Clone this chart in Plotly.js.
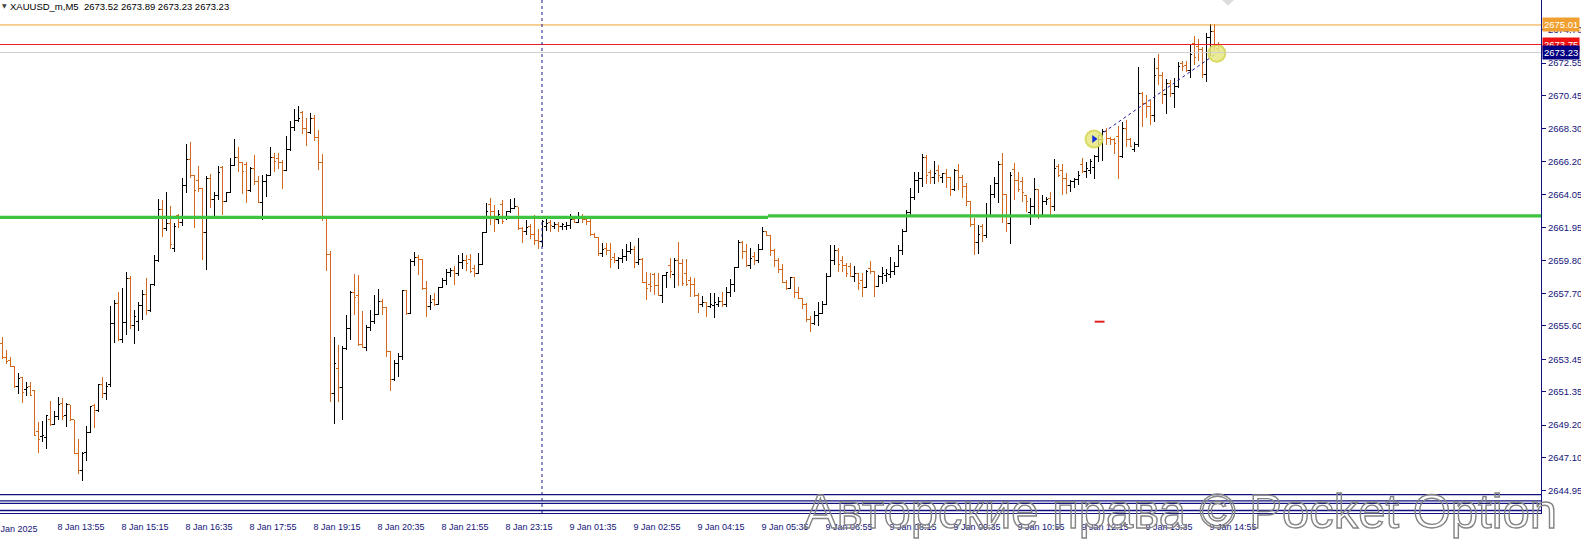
<!DOCTYPE html>
<html>
<head>
<meta charset="utf-8">
<script src="https://cdn.plot.ly/plotly-3.0.1.min.js"></script>
<style>
html,body{margin:0;padding:0;background:#ffffff;overflow:hidden}
#chart{width:1581px;height:541px}
</style>
</head>
<body>
<div id="chart"></div>
<script>
// ---------- data ----------
const symbolName = 'XAUUSD_m,M5';

const open = [
2654.47,2653.57,2653.34,2652.97,2651.68,2652.28,2651.51,2651.68,2651.42,2648.80,
2648.45,2648.41,2649.53,2649.27,2649.74,2650.60,2649.83,2650.50,2649.53,2647.34,
2646.30,2647.44,2648.71,2650.45,2650.11,2651.83,2651.25,2651.85,2655.76,2657.05,
2654.69,2655.83,2658.67,2655.60,2655.90,2656.90,2657.63,2656.60,2658.30,2659.80,
2663.12,2661.89,2662.21,2660.60,2662.70,2662.30,2664.68,2666.30,2665.27,2665.00,
2664.47,2661.61,2665.11,2663.78,2664.00,2665.80,2663.65,2664.20,2665.97,2666.45,
2666.15,2666.00,2664.36,2665.72,2664.94,2663.57,2664.90,2665.33,2666.47,2666.40,
2666.13,2665.65,2667.00,2668.41,2668.84,2669.38,2668.30,2668.10,2668.95,2667.76,
2666.11,2662.56,2660.20,2651.27,2652.88,2651.64,2654.17,2655.40,2657.77,2657.57,
2654.43,2654.20,2655.47,2655.89,2656.32,2657.18,2656.80,2653.92,2652.13,2653.16,
2653.64,2657.85,2656.43,2659.76,2659.98,2659.87,2658.04,2656.82,2657.30,2657.00,
2658.08,2658.50,2659.03,2659.16,2658.98,2659.67,2659.80,2659.90,2659.30,2659.00,
2659.59,2661.61,2663.40,2663.00,2662.47,2663.40,2662.50,2662.95,2663.18,2663.29,
2661.89,2661.67,2662.00,2661.50,2661.13,2661.03,2662.00,2662.30,2662.00,2662.17,
2662.00,2662.00,2662.10,2662.47,2662.27,2662.64,2662.47,2662.32,2661.51,2661.30,
2660.28,2660.60,2660.45,2660.00,2659.80,2659.96,2660.07,2660.43,2660.50,2659.70,
2659.90,2658.40,2658.30,2658.90,2658.20,2657.59,2658.85,2659.50,2658.90,2659.80,
2659.64,2659.00,2658.50,2658.25,2657.59,2656.95,2657.10,2656.84,2656.90,2657.00,
2657.20,2656.95,2657.75,2658.30,2659.38,2661.00,2660.38,2659.48,2660.10,2659.80,
2660.53,2661.67,2661.45,2660.49,2659.84,2659.26,2658.40,2658.00,2658.73,2657.74,
2657.35,2656.99,2656.02,2655.76,2656.30,2656.40,2657.01,2658.81,2659.84,2660.49,
2659.80,2659.52,2659.40,2658.81,2658.95,2658.50,2658.06,2659.30,2659.09,2658.17,
2658.77,2658.85,2658.90,2659.10,2659.46,2660.45,2661.68,2662.91,2663.89,2664.95,
2665.12,2666.45,2665.50,2665.20,2665.60,2665.20,2665.40,2665.18,2664.37,2665.60,
2665.20,2664.58,2663.61,2662.15,2661.00,2662.00,2661.40,2662.75,2664.09,2664.80,
2666.00,2664.09,2662.20,2665.70,2665.00,2664.90,2664.00,2662.90,2663.30,2664.40,
2662.75,2663.60,2663.80,2663.30,2665.90,2665.60,2665.10,2664.68,2664.94,2665.07,
2666.00,2665.54,2665.60,2665.80,2666.50,2667.65,2668.12,2667.70,2667.60,2667.80,
2666.51,2668.34,2667.59,2667.00,2667.27,2670.60,2669.95,2669.74,2669.20,2672.20,
2671.75,2670.53,2671.24,2670.60,2671.03,2672.50,2672.40,2672.10,2673.80,2673.60,
2673.40,2671.80,2674.20,2674.60,2673.52];

const high = [
2654.86,2654.04,2653.61,2652.99,2652.54,2652.32,2651.96,2651.96,2651.46,2649.38,
2649.47,2649.85,2650.76,2650.13,2650.99,2650.93,2650.65,2650.52,2649.55,2648.30,
2647.44,2649.14,2650.45,2650.56,2651.85,2652.32,2652.00,2656.88,2657.27,2657.81,
2658.02,2659.05,2658.82,2656.60,2657.16,2657.91,2658.66,2658.28,2660.17,2663.78,
2663.72,2664.21,2663.33,2662.26,2662.81,2665.11,2667.33,2667.48,2665.33,2665.93,
2664.50,2665.27,2665.39,2664.21,2665.93,2665.93,2664.25,2666.40,2667.65,2667.16,
2666.19,2666.19,2665.87,2666.62,2665.27,2665.33,2665.39,2667.11,2666.77,2666.77,
2666.30,2667.87,2668.84,2669.59,2669.81,2669.44,2669.01,2669.33,2669.22,2668.26,
2666.69,2662.60,2660.41,2654.86,2654.39,2654.28,2656.32,2657.87,2658.95,2658.90,
2656.54,2655.68,2656.65,2657.61,2657.98,2657.34,2656.85,2653.95,2653.38,2653.85,
2657.89,2657.89,2659.92,2660.37,2660.15,2659.94,2658.47,2657.61,2657.72,2658.12,
2658.71,2659.26,2659.35,2659.46,2660.17,2660.27,2660.17,2660.23,2659.52,2660.32,
2661.67,2663.50,2663.87,2663.39,2663.07,2663.71,2663.01,2663.76,2663.82,2663.30,
2661.95,2662.42,2662.17,2662.75,2661.82,2662.42,2662.47,2662.42,2662.27,2662.27,
2662.25,2662.27,2662.81,2662.64,2662.96,2662.81,2662.68,2662.47,2661.60,2661.31,
2660.93,2660.93,2660.93,2660.28,2660.02,2660.56,2660.86,2661.03,2660.78,2661.29,
2659.96,2659.10,2659.04,2659.00,2659.00,2658.88,2659.10,2659.96,2659.96,2660.99,
2659.92,2659.92,2658.78,2658.67,2657.70,2657.55,2657.15,2657.70,2657.70,2657.49,
2657.81,2658.13,2658.61,2659.42,2661.14,2661.10,2660.88,2660.60,2660.38,2660.88,
2661.95,2661.74,2661.46,2660.55,2659.95,2659.57,2658.55,2658.77,2658.75,2658.08,
2657.40,2657.05,2656.25,2656.58,2657.16,2657.22,2658.98,2660.81,2660.81,2660.60,
2660.10,2659.63,2659.63,2659.46,2658.98,2658.98,2659.20,2659.78,2659.12,2658.88,
2659.41,2659.24,2660.06,2659.74,2660.82,2661.85,2663.08,2664.52,2665.55,2665.55,
2666.67,2666.62,2665.66,2666.24,2665.98,2665.44,2665.72,2665.23,2665.70,2666.04,
2665.33,2664.80,2663.65,2662.58,2662.11,2662.15,2663.51,2664.69,2665.23,2666.24,
2666.73,2664.12,2665.55,2666.09,2665.55,2665.18,2664.04,2663.83,2665.12,2664.43,
2664.04,2663.94,2664.25,2666.36,2666.02,2666.02,2665.44,2665.01,2665.16,2665.59,
2666.40,2666.19,2666.34,2666.62,2667.91,2668.30,2668.34,2667.80,2667.74,2668.49,
2668.77,2668.86,2667.74,2667.44,2672.32,2670.66,2670.49,2670.17,2672.85,2673.11,
2671.99,2671.50,2671.46,2671.56,2672.64,2672.70,2672.68,2673.76,2674.32,2674.10,
2673.60,2674.50,2675.10,2675.10,2673.89];

const low = [
2653.44,2653.14,2652.93,2651.57,2651.19,2650.65,2651.10,2651.10,2648.52,2647.38,
2648.13,2647.68,2649.16,2649.21,2649.53,2649.53,2649.10,2649.49,2647.32,2646.03,
2645.57,2646.91,2648.67,2649.04,2650.07,2650.93,2650.82,2651.64,2654.47,2654.65,
2654.47,2655.01,2655.40,2654.40,2655.30,2656.00,2656.30,2656.50,2658.20,2659.70,
2661.35,2661.74,2660.54,2660.39,2661.89,2662.06,2664.19,2665.11,2661.93,2664.25,
2659.87,2659.18,2663.18,2662.71,2663.72,2662.75,2663.60,2664.15,2665.93,2665.54,
2664.10,2663.50,2664.25,2664.68,2663.50,2662.43,2663.93,2665.30,2665.50,2665.70,
2664.43,2665.60,2666.86,2668.15,2668.75,2667.98,2667.18,2668.00,2667.50,2665.68,
2662.39,2659.12,2650.69,2649.27,2650.69,2649.55,2654.07,2654.71,2656.32,2654.28,
2654.17,2653.96,2655.29,2655.72,2656.30,2656.28,2653.57,2651.38,2652.02,2652.28,
2653.42,2656.32,2656.37,2659.44,2658.90,2657.94,2656.15,2656.65,2656.90,2656.95,
2658.02,2658.23,2658.73,2658.23,2658.81,2659.24,2659.14,2659.03,2658.77,2658.95,
2659.55,2661.56,2662.10,2661.67,2662.15,2662.15,2662.40,2662.90,2663.11,2661.78,
2660.96,2661.46,2661.18,2660.81,2660.53,2660.70,2661.74,2661.67,2661.82,2661.67,
2661.78,2661.78,2661.82,2662.21,2662.25,2662.21,2662.10,2661.42,2661.28,2660.13,
2660.07,2660.17,2659.31,2659.64,2659.27,2659.64,2659.79,2660.22,2659.36,2659.53,
2658.35,2657.27,2657.81,2657.59,2657.53,2657.10,2658.02,2658.67,2658.02,2658.20,
2658.20,2658.18,2657.49,2657.49,2656.41,2656.84,2656.20,2656.73,2656.13,2656.84,
2656.84,2656.84,2657.49,2657.81,2659.31,2659.90,2659.37,2659.24,2659.52,2659.63,
2660.49,2661.38,2660.10,2659.41,2659.03,2658.38,2657.91,2657.95,2657.37,2657.31,
2656.66,2655.87,2655.22,2655.65,2655.59,2656.36,2656.94,2658.73,2659.52,2659.09,
2659.09,2658.77,2658.73,2658.40,2657.91,2657.44,2658.02,2658.94,2657.44,2658.13,
2658.30,2658.40,2658.66,2658.88,2659.40,2660.17,2661.64,2662.75,2663.72,2664.15,
2664.58,2664.73,2664.73,2664.73,2664.90,2664.84,2664.52,2664.00,2664.30,2664.37,
2663.87,2663.34,2662.00,2660.17,2660.22,2661.03,2661.30,2662.65,2663.83,2663.51,
2662.22,2661.64,2660.86,2663.72,2664.26,2663.61,2662.97,2662.11,2662.71,2662.50,
2662.70,2663.40,2662.75,2663.00,2665.22,2664.04,2664.10,2664.25,2664.47,2664.68,
2665.44,2665.11,2665.37,2665.07,2666.19,2666.23,2667.26,2667.26,2666.66,2665.05,
2666.45,2667.16,2667.12,2666.83,2667.16,2668.45,2668.98,2668.55,2668.77,2671.13,
2669.89,2669.26,2670.38,2669.67,2670.95,2672.04,2672.00,2671.61,2672.42,2672.68,
2671.56,2671.30,2673.00,2673.30,2673.23];

const close = [
2653.57,2653.29,2652.97,2651.68,2652.22,2651.31,2651.64,2651.14,2648.56,2648.30,
2648.56,2649.83,2649.25,2649.74,2650.56,2649.74,2650.54,2649.53,2647.34,2646.30,
2647.40,2648.71,2650.39,2650.11,2651.83,2651.25,2651.72,2655.76,2657.05,2654.69,
2655.83,2658.67,2655.60,2656.20,2656.90,2657.63,2656.60,2658.24,2659.80,2663.12,
2661.89,2662.21,2660.86,2662.00,2662.30,2664.68,2666.30,2665.27,2664.32,2664.47,
2661.61,2665.11,2663.78,2664.00,2665.50,2663.65,2664.20,2665.97,2666.45,2666.15,
2665.59,2664.36,2665.72,2664.94,2663.57,2664.90,2665.33,2666.47,2666.19,2666.13,
2665.65,2667.00,2668.41,2668.84,2669.00,2668.30,2668.10,2668.95,2667.76,2666.11,
2662.60,2660.20,2651.27,2653.16,2651.64,2654.17,2655.40,2657.77,2657.46,2654.43,
2654.20,2655.47,2655.89,2656.32,2657.18,2656.80,2653.92,2652.13,2653.16,2653.64,
2657.85,2656.43,2659.76,2659.98,2659.87,2658.04,2656.82,2657.14,2657.00,2658.08,
2658.50,2659.03,2659.16,2658.98,2659.67,2659.80,2659.63,2659.14,2659.00,2659.59,
2661.61,2663.01,2663.01,2662.47,2662.80,2662.32,2662.95,2663.18,2663.29,2661.89,
2661.67,2661.95,2661.50,2661.13,2661.03,2662.32,2662.21,2662.10,2662.17,2662.04,
2662.15,2662.10,2662.47,2662.27,2662.64,2662.47,2662.32,2661.51,2661.30,2660.28,
2660.50,2660.45,2659.85,2659.80,2659.96,2660.07,2660.43,2660.50,2659.70,2659.90,
2658.40,2658.02,2658.13,2658.20,2657.59,2658.85,2659.04,2659.10,2659.80,2659.64,
2658.35,2658.30,2658.25,2657.59,2656.95,2657.10,2656.84,2657.00,2657.10,2657.20,
2656.95,2657.75,2658.30,2659.38,2661.00,2660.38,2659.48,2659.95,2659.80,2660.53,
2661.67,2661.45,2660.49,2659.84,2659.26,2658.40,2658.00,2658.73,2657.74,2657.35,
2656.99,2656.02,2655.76,2656.30,2656.40,2657.01,2658.81,2659.84,2660.49,2659.57,
2659.52,2658.98,2658.81,2658.95,2658.34,2658.06,2659.14,2659.09,2658.17,2658.77,
2658.95,2659.00,2659.10,2659.46,2660.45,2661.68,2662.91,2663.89,2664.95,2665.12,
2666.45,2665.29,2665.20,2665.44,2665.30,2665.40,2665.18,2664.37,2665.60,2665.20,
2664.58,2663.61,2662.15,2661.00,2661.50,2661.40,2662.75,2664.09,2664.80,2666.00,
2664.09,2662.20,2665.30,2665.00,2664.37,2664.20,2663.61,2663.30,2664.40,2662.71,
2663.61,2663.75,2663.30,2665.72,2665.33,2665.10,2664.68,2664.94,2665.07,2665.33,
2665.54,2665.76,2666.19,2666.50,2667.65,2668.12,2667.69,2667.60,2667.37,2666.51,
2668.34,2667.59,2667.20,2667.27,2670.60,2669.95,2669.74,2669.20,2671.78,2671.75,
2670.53,2671.24,2670.60,2671.03,2672.30,2672.32,2672.10,2673.10,2672.90,2673.40,
2671.80,2674.20,2674.60,2673.60,2673.23];

const yTickValues = [2674.70,2672.55,2670.45,2668.30,2666.20,2664.05,2661.95,2659.80,2657.70,2655.60,2653.45,2651.35,2649.20,2647.10,2644.95];

const xTickBars = [14,30,46,62,78,94,110,126,142,158,174,190,206,222,238,254,270,286,302];
const xTickLabels = ['8 Jan 13:55','8 Jan 15:15','8 Jan 16:35','8 Jan 17:55','8 Jan 19:15','8 Jan 20:35',
  '8 Jan 21:55','8 Jan 23:15','9 Jan 01:35','9 Jan 02:55','9 Jan 04:15','9 Jan 05:35','9 Jan 06:55',
  '9 Jan 08:15','9 Jan 09:35','9 Jan 10:55','9 Jan 12:15','9 Jan 13:35','9 Jan 14:55'];
const firstDateLabel = '8 Jan 2025';

const askLevel = 2675.01;
const redLevel = 2673.75;
const bidLevel = 2673.23;
const supportLeftLevel = 2662.60;
const supportRightLevel = 2662.69;
const supportBreakBar = 191.5;
const bottomLevels = [2644.72, 2644.31, 2644.15, 2643.69];
const separatorBar = 135;
const tradeBars = [273, 303.7];
const tradePrices = [2667.65, 2673.19];
const redMarkBar = [274.4];
const redMarkPrice = [2655.87];
const topMarkBar = [306.5];
const topMarkPrice = [2676.75];
const watermarkText = 'Авторские права © Pocket Option';

// ---------- chart ----------
const n = open.length;
const barIndex = open.map((_, i) => i);
const NAVY = '#14147a';
const lblFont = {family: 'Liberation Sans, Arial, sans-serif', size: 9, color: NAVY};

const traces = [
  {
    type: 'ohlc', x: barIndex, open: open, high: high, low: low, close: close,
    increasing: {line: {color: '#000000', width: 1}},
    decreasing: {line: {color: '#D2691E', width: 1}},
    tickwidth: 0.38, hoverinfo: 'skip', showlegend: false
  },
  {
    type: 'scatter', mode: 'lines', x: tradeBars, y: tradePrices,
    line: {color: '#1a1aa0', width: 1, dash: 'dot'}, hoverinfo: 'skip', showlegend: false
  },
  {
    type: 'scatter', mode: 'markers', x: tradeBars, y: tradePrices,
    marker: {symbol: 'circle', size: 17, color: 'rgba(232,232,130,0.85)',
             line: {color: 'rgba(215,215,90,0.9)', width: 2}},
    hoverinfo: 'skip', showlegend: false
  },
  {
    type: 'scatter', mode: 'markers', x: [tradeBars[0]], y: [tradePrices[0]],
    marker: {symbol: 'triangle-right', size: 7, color: '#1030e0', line: {width: 0}},
    hoverinfo: 'skip', showlegend: false
  },
  {
    type: 'scatter', mode: 'markers', x: redMarkBar, y: redMarkPrice,
    marker: {symbol: 'line-ew', size: 7, line: {color: '#e02020', width: 2}},
    hoverinfo: 'skip', showlegend: false
  },
  {
    type: 'scatter', mode: 'markers', x: topMarkBar, y: topMarkPrice,
    marker: {symbol: 'diamond', size: 12, color: '#dcdcdc'},
    hoverinfo: 'skip', showlegend: false, cliponaxis: true
  }
];

const hline = (y, color, width) => ({
  type: 'line', xref: 'paper', yref: 'y', x0: 0, x1: 1,
  y0: y, y1: y, line: {color: color, width: width}
});

const shapes = [
  hline(bidLevel, '#cfcfcf', 1),
  hline(askLevel, '#F0A030', 1),
  hline(redLevel, '#E8202A', 1),
  {type: 'line', xref: 'x', yref: 'paper', x0: separatorBar, x1: separatorBar, y0: 0, y1: 1,
   line: {color: '#1a1a90', width: 1, dash: 'dot'}},
  {type: 'line', xref: 'x', yref: 'y', x0: -0.5, x1: supportBreakBar, y0: supportLeftLevel, y1: supportLeftLevel,
   line: {color: '#3EC43E', width: 3.2}},
  {type: 'line', xref: 'x', yref: 'y', x0: supportBreakBar, x1: 384.75, y0: supportRightLevel, y1: supportRightLevel,
   line: {color: '#3EC43E', width: 3.2}},
];
bottomLevels.forEach(v => shapes.push(hline(v, '#101080', 1.3)));

const annotations = [
  {xref: 'paper', yref: 'paper', x: 0, y: 1, xanchor: 'left', yanchor: 'top', xshift: 0, yshift: 0,
   text: '▼', showarrow: false, font: {family: 'DejaVu Sans', size: 6, color: '#404040'}},
  {xref: 'paper', yref: 'paper', x: 0, y: 1, xanchor: 'left', yanchor: 'top', xshift: 8, yshift: 1,
   text: symbolName + '\u00a0\u00a0' + [open[n-1], high[n-1], low[n-1], close[n-1]].map(v => v.toFixed(2)).join(' '),
   showarrow: false, font: {family: 'Liberation Sans, Arial, sans-serif', size: 9.5, color: '#000000'}},
  {xref: 'paper', yref: 'paper', x: 0.766, y: 0.004, xanchor: 'center', yanchor: 'middle',
   text: watermarkText, showarrow: false,
   font: {family: 'Liberation Sans, Arial, sans-serif', size: 49, color: 'rgba(255,255,255,0.15)'}},
  {xref: 'paper', yref: 'paper', x: 0, y: 0, xanchor: 'left', yanchor: 'top', xshift: -9, yshift: -9,
   text: firstDateLabel, showarrow: false, font: lblFont},
  {xref: 'paper', yref: 'y', x: 1, y: askLevel, xanchor: 'left', yanchor: 'middle', xshift: 1,
   text: askLevel.toFixed(2), showarrow: false, bgcolor: '#F0A030', borderpad: 1,
   font: {family: 'Liberation Sans, Arial, sans-serif', size: 9.5, color: '#ffffff'}},
  {xref: 'paper', yref: 'y', x: 1, y: redLevel, xanchor: 'left', yanchor: 'middle', xshift: 1,
   text: redLevel.toFixed(2), showarrow: false, bgcolor: '#EE1111', borderpad: 1,
   font: {family: 'Liberation Sans, Arial, sans-serif', size: 9.5, color: '#ffffff'}},
  {xref: 'paper', yref: 'y', x: 1, y: bidLevel, xanchor: 'left', yanchor: 'middle', xshift: 1,
   text: bidLevel.toFixed(2), showarrow: false, bgcolor: '#000080', borderpad: 1,
   font: {family: 'Liberation Sans, Arial, sans-serif', size: 9.5, color: '#ffffff'}}
];

const layout = {
  width: 1581, height: 541,
  margin: {l: 0, r: 40, t: 0, b: 28, pad: 0},
  paper_bgcolor: '#ffffff', plot_bgcolor: '#ffffff',
  showlegend: false,
  xaxis: {
    type: 'linear', range: [-0.5, 384.75], rangeslider: {visible: false},
    showgrid: false, zeroline: false, showline: true, linecolor: '#101080', linewidth: 1,
    tickmode: 'array', tickvals: xTickBars, ticktext: xTickLabels,
    ticks: '', tickfont: lblFont, ticklabelshift: 23, ticklabelstandoff: 5,
    fixedrange: true
  },
  yaxis: {
    side: 'right', range: [2643.53, 2676.62],
    showgrid: false, zeroline: false, showline: true, linecolor: '#101080', linewidth: 1,
    tickmode: 'array', tickvals: yTickValues, ticktext: yTickValues.map(v => v.toFixed(2)),
    ticks: 'outside', ticklen: 4, tickcolor: '#101080', tickwidth: 1,
    tickfont: {family: 'Liberation Sans, Arial, sans-serif', size: 9.5, color: NAVY},
    fixedrange: true
  },
  shapes: shapes,
  annotations: annotations
};

Plotly.newPlot('chart', traces, layout, {staticPlot: true, displayModeBar: false}).then(() => {
  document.querySelectorAll('.ohlclayer path, .trace.ohlc path').forEach(p => {
    p.style.setProperty('shape-rendering', 'crispEdges');
  });
  document.querySelectorAll('.annotation-text').forEach(t => {
    if (t.textContent.indexOf('Pocket') >= 0) {
      t.style.setProperty('fill', 'rgba(255,255,255,0.15)');
      t.style.setProperty('stroke', '#858585');
      t.style.setProperty('stroke-width', '1.4px');
    }
  });
});
</script>
</body>
</html>
